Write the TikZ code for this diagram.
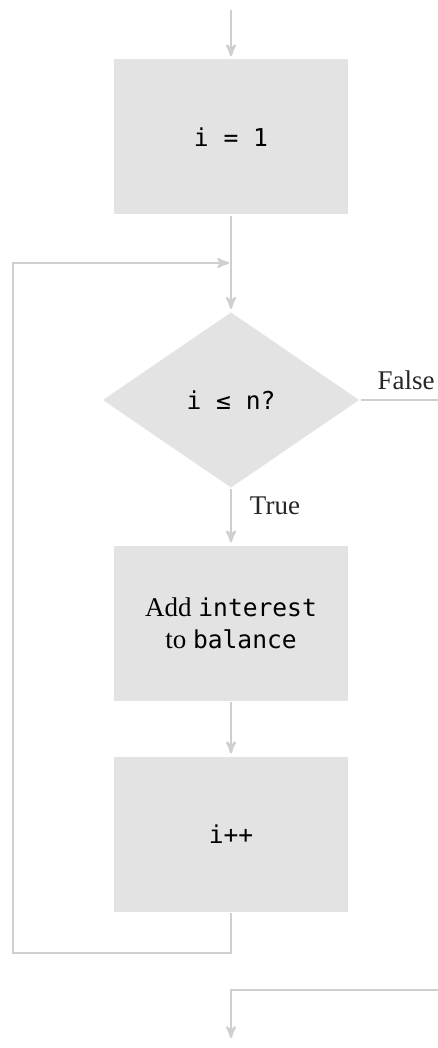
\documentclass[tikz,border=0pt]{standalone}
\usepackage{fontspec}
\setmainfont{Liberation Serif}
\setmonofont{DejaVu Sans Mono}
\usepackage{xcolor}
\usetikzlibrary{arrows, shapes.geometric}
\definecolor{boxgray}{HTML}{E3E3E3}
\definecolor{linegray}{HTML}{CFCFCF}
\newcommand{\codesize}{\fontsize{12.3}{16}\selectfont}
\newcommand{\textsize}{\fontsize{13.5}{16}\selectfont}

\begin{document}
\begin{tikzpicture}[x=0.5pt, y=-0.5pt,
			>=stealth',
			shorten >=1pt,
			line width=1.1pt,
			box/.style={fill=boxgray, draw=none, minimum width=117pt, minimum height=77.5pt, inner sep=0pt, align=center},
			decision/.style={diamond, fill=boxgray, draw=none, minimum width=128.5pt, minimum height=88pt, inner sep=0pt},
			flow/.style={->, draw=linegray},
			lbl/.style={font=\textsize, text=black!85}]
			
			\useasboundingbox (0,0) rectangle (438,1048);
			
			\node[box] (init) at (231,137) {\codesize\texttt{i = 1}};
			\node[decision] (test) at (231,400) {\codesize\texttt{i ≤ n?}};
			\node[box] (add) at (231,623) {\textsize Add \codesize\texttt{interest}\\[4pt]
				\textsize to \codesize\texttt{balance}};
			\node[box] (incr) at (231,834) {\codesize\texttt{i++}};
			
			\node[lbl] (false) at (406,380) {False};
			\node[lbl] (true) at (275,506) {True};
			
			\coordinate (start) at (231,10);
			\coordinate (merge) at (231,263);
			\coordinate (back) at (13,263);
			\coordinate (out) at (231,1040);
			
			\draw[flow] (start) -- (init);
			\draw[flow] (init) -- (test);
			\draw[flow] (test) -- (add);
			\draw[flow] (add) -- (incr);
			\draw[flow] (incr.south) -- (231,953) -- (13,953) -- (back) -- (merge);
			\draw[flow] (test.east) -- (450,400) -- (450,990) -- (231,990) -- (out);
		\end{tikzpicture}
\end{document}
